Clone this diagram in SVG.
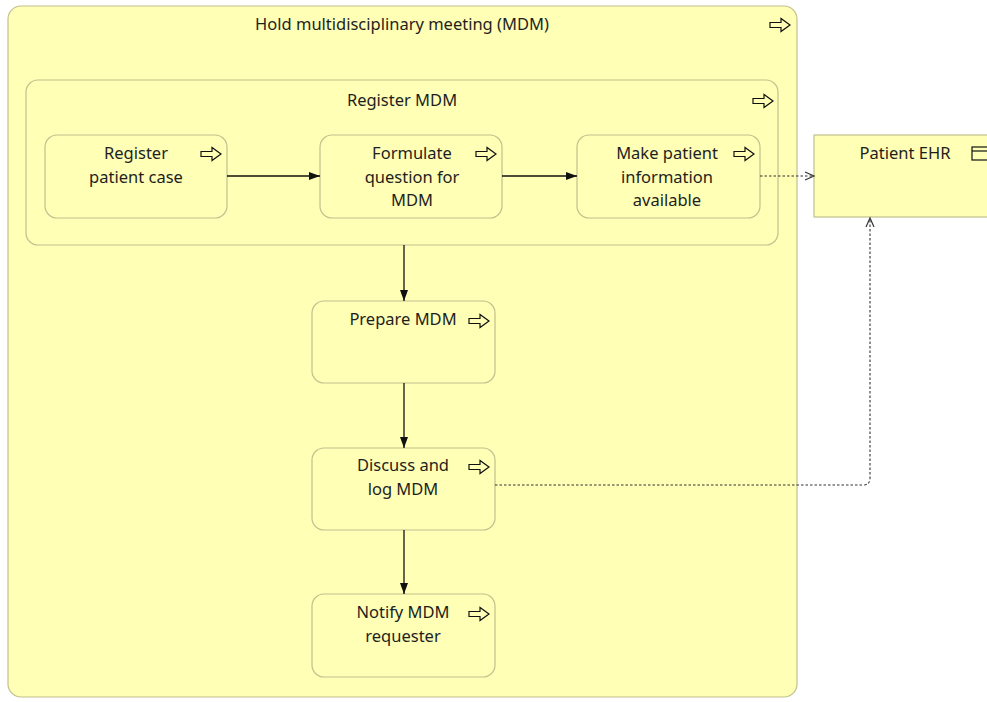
<svg xmlns="http://www.w3.org/2000/svg" width="987" height="702" viewBox="0 0 987 702">
  <style>
    .box { fill: #ffffb5; stroke: #c2c08e; stroke-width: 1.2; }
    .lbl { font-family: "Noto Sans", "Open Sans", sans-serif; font-size: 16.5px; fill: #1e1e1e; text-anchor: middle; }
    .icon { fill: none; stroke: #111; stroke-width: 1.2; stroke-linejoin: miter; }
    .flow { fill: none; stroke: #111; stroke-width: 1.3; marker-end: url(#solidHead); }
    .access { fill: none; stroke: #333; stroke-width: 1.1; stroke-dasharray: 2.5 2; marker-end: url(#openHead); }
  </style>
  <defs>
    <!-- process glyph: hollow right-pointing arrow -->
    <path id="procIcon" d="M0,-2.5 H11 V-6.5 L20,0 L11,6.5 V2.5 H0 Z"/>
    <marker id="solidHead" markerWidth="12" markerHeight="10" refX="11" refY="5" orient="auto" markerUnits="userSpaceOnUse">
      <path d="M0,1 L11,5 L0,9 Z" fill="#111"/>
    </marker>
    <marker id="openHead" markerWidth="12" markerHeight="12" refX="10" refY="6" orient="auto" markerUnits="userSpaceOnUse">
      <path d="M1,2 L10,6 L1,10" fill="none" stroke="#333" stroke-width="1.2"/>
    </marker>
  </defs>

  <rect width="987" height="702" fill="#ffffff"/>

  <!-- container process -->
  <g id="hold-mdm">
    <rect class="box" x="8" y="6" width="789" height="691" rx="13"/>
    <text class="lbl" x="402" y="30">Hold multidisciplinary meeting (MDM)</text>
    <use href="#procIcon" class="icon" x="770" y="25"/>
  </g>

  <g id="register-mdm">
    <rect class="box" x="26" y="80" width="752" height="165" rx="12"/>
    <text class="lbl" x="402" y="106">Register MDM</text>
    <use href="#procIcon" class="icon" x="753" y="101"/>
  </g>

  <g id="register-patient-case">
    <rect class="box" x="45" y="135" width="182" height="83" rx="12"/>
    <text class="lbl" x="136" y="159">Register</text>
    <text class="lbl" x="136" y="183">patient case</text>
    <use href="#procIcon" class="icon" x="201" y="154"/>
  </g>

  <g id="formulate-question">
    <rect class="box" x="320" y="135" width="182" height="83" rx="12"/>
    <text class="lbl" x="412" y="159">Formulate</text>
    <text class="lbl" x="412" y="183">question for</text>
    <text class="lbl" x="412" y="206">MDM</text>
    <use href="#procIcon" class="icon" x="476" y="154"/>
  </g>

  <g id="make-info-available">
    <rect class="box" x="577" y="135" width="183" height="83" rx="12"/>
    <text class="lbl" x="667" y="159">Make patient</text>
    <text class="lbl" x="667" y="183">information</text>
    <text class="lbl" x="667" y="206">available</text>
    <use href="#procIcon" class="icon" x="734" y="154"/>
  </g>

  <g id="patient-ehr">
    <rect class="box" x="814" y="135" width="190" height="82"/>
    <text class="lbl" x="905" y="159">Patient EHR</text>
    <rect class="icon" x="972" y="147" width="20" height="13"/>
    <line class="icon" x1="972" y1="151" x2="992" y2="151"/>
  </g>

  <g id="prepare-mdm">
    <rect class="box" x="312" y="301" width="183" height="82" rx="12"/>
    <text class="lbl" x="403" y="325">Prepare MDM</text>
    <use href="#procIcon" class="icon" x="469" y="321"/>
  </g>

  <g id="discuss-log-mdm">
    <rect class="box" x="312" y="448" width="183" height="82" rx="12"/>
    <text class="lbl" x="403" y="471">Discuss and</text>
    <text class="lbl" x="403" y="495">log MDM</text>
    <use href="#procIcon" class="icon" x="469" y="467"/>
  </g>

  <g id="notify-requester">
    <rect class="box" x="312" y="594" width="183" height="83" rx="12"/>
    <text class="lbl" x="403" y="618">Notify MDM</text>
    <text class="lbl" x="403" y="642">requester</text>
    <use href="#procIcon" class="icon" x="469" y="614"/>
  </g>

  <g id="connectors">
    <path class="flow" d="M227,176 H320"/>
    <path class="flow" d="M502,176 H577"/>
    <path class="flow" d="M404,245 V301"/>
    <path class="flow" d="M404,383 V448"/>
    <path class="flow" d="M404,530 V594"/>
    <path class="access" d="M760,176 H814"/>
    <path class="access" d="M495,485 H863 Q870,485 870,478 V218"/>
  </g>
</svg>
